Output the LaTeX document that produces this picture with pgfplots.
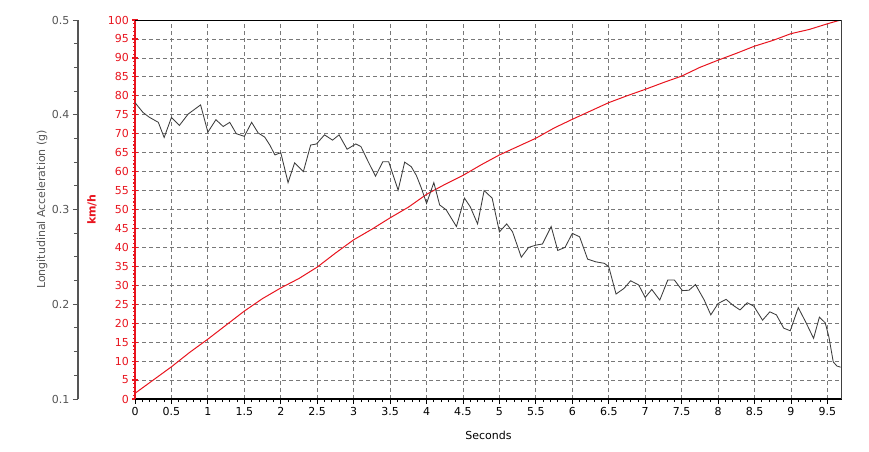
\documentclass[border=0pt]{standalone}
\usepackage{fontspec}
\setmainfont{DejaVu Sans}
\usepackage{pgfplots}
\usepackage{pgfplotstable}
\pgfplotsset{compat=1.18}
\definecolor{kmh}{RGB}{232,20,30}
\definecolor{acc}{RGB}{85,85,85}
\definecolor{accline}{RGB}{60,60,60}
\definecolor{gridc}{RGB}{120,120,120}

\pgfplotstableread{
t g
0.00 0.4128
0.11 0.4024
0.20 0.3972
0.32 0.3920
0.40 0.3760
0.50 0.3972
0.61 0.3888
0.73 0.4008
0.90 0.4104
1.00 0.3816
1.11 0.3948
1.21 0.3876
1.30 0.3920
1.39 0.3800
1.50 0.3772
1.60 0.3920
1.69 0.3808
1.78 0.3764
1.85 0.3680
1.92 0.3576
2.00 0.3600
2.10 0.3284
2.19 0.3492
2.31 0.3400
2.41 0.3680
2.49 0.3692
2.60 0.3788
2.71 0.3732
2.80 0.3788
2.91 0.3636
3.03 0.3692
3.10 0.3664
3.20 0.3504
3.30 0.3352
3.40 0.3504
3.48 0.3504
3.61 0.3204
3.70 0.3500
3.79 0.3452
3.86 0.3360
3.93 0.3224
4.00 0.3064
4.10 0.3284
4.18 0.3048
4.27 0.2996
4.41 0.2820
4.52 0.3120
4.60 0.3028
4.70 0.2848
4.79 0.3200
4.90 0.3120
5.00 0.2764
5.10 0.2848
5.18 0.2764
5.30 0.2496
5.40 0.2600
5.50 0.2624
5.59 0.2636
5.71 0.2820
5.80 0.2568
5.90 0.2600
6.00 0.2748
6.10 0.2712
6.21 0.2476
6.32 0.2448
6.44 0.2432
6.50 0.2396
6.60 0.2108
6.71 0.2168
6.80 0.2248
6.91 0.2204
7.00 0.2072
7.09 0.2156
7.20 0.2044
7.31 0.2256
7.40 0.2256
7.51 0.2144
7.60 0.2148
7.69 0.2208
7.81 0.2044
7.90 0.1888
8.00 0.2008
8.11 0.2052
8.20 0.1992
8.30 0.1940
8.40 0.2016
8.49 0.1980
8.61 0.1832
8.71 0.1920
8.80 0.1888
8.90 0.1748
8.99 0.1720
9.10 0.1964
9.20 0.1816
9.31 0.1640
9.39 0.1864
9.47 0.1804
9.52 0.1656
9.58 0.1392
9.63 0.1348
9.68 0.1336
}\acctable

\pgfplotstableread{
t v
0.00 1.5
0.25 5.0
0.50 8.5
0.75 12.3
1.00 15.8
1.25 19.5
1.50 23.2
1.75 26.5
2.00 29.3
2.25 31.8
2.50 34.8
2.75 38.5
3.00 42.0
3.25 44.8
3.50 47.8
3.75 50.6
4.00 54.0
4.25 56.6
4.50 59.0
4.75 61.8
5.00 64.4
5.25 66.6
5.50 68.8
5.75 71.5
6.00 73.8
6.25 76.0
6.50 78.2
6.75 80.0
7.00 81.7
7.25 83.5
7.50 85.2
7.75 87.5
8.00 89.4
8.25 91.2
8.50 93.1
8.75 94.6
9.00 96.4
9.25 97.5
9.50 99.0
9.68 100.0
}\speedtable

\begin{document}
\begin{tikzpicture}
\path[use as bounding box] (-135pt,-52pt) rectangle (734pt,399pt);

% acceleration (g) scale
\begin{axis}[
  at={(-57pt,0pt)}, anchor=south west,
  scale only axis, width=10pt, height=379pt,
  xmin=0, xmax=1, ymin=0.1, ymax=0.5,
  axis x line=none, axis y line*=left,
  y axis line style={acc, line width=1.6pt, -},
  ytick={0.1,0.2,0.3,0.4,0.5}, minor y tick num=3,
  ytick align=outside, major tick length=5pt, minor tick length=4pt,
  ytick style={acc, line width=1pt},
  yticklabel style={acc, font=\fontsize{11}{13}\selectfont},
  /pgf/number format/.cd, fixed, fixed zerofill, precision=1, assume math mode=true,
  /pgfplots/.cd,
  ylabel={Longitudinal Acceleration (g)},
  every axis y label/.style={at={([xshift=-36pt]axis description cs:0,0.5)}, rotate=90, anchor=center, font=\fontsize{11}{13}\selectfont, color=acc},
]
\end{axis}

% speed axis with grid
\begin{axis}[
  at={(0pt,0pt)}, anchor=south west,
  scale only axis, width=707pt, height=379pt,
  xmin=0, xmax=9.7, ymin=0, ymax=100,
  axis x line*=bottom, axis y line*=left,
  x axis line style={black, line width=2.4pt, -},
  y axis line style={kmh, line width=2pt, -},
  xtick={0,0.5,...,9.5}, minor x tick num=4,
  ytick={0,5,...,100}, minor y tick num=4,
  xtick align=outside, ytick align=center,
  major tick length=5pt, minor tick length=3pt,
  xtick style={black, line width=0.8pt},
  ytick style={kmh, line width=1.2pt},
  grid=major,
  major grid style={dash pattern=on 4pt off 3pt, gridc, line width=0.8pt},
  tick label style={font=\fontsize{11}{13}\selectfont},
  /pgf/number format/assume math mode=true,
  yticklabel style={kmh},
  xlabel={Seconds}, ylabel={km/h},
  every axis x label/.style={at={([yshift=-36pt]axis description cs:0.5,0)}, anchor=center, font=\fontsize{11}{13}\selectfont},
  every axis y label/.style={at={([xshift=-43pt]axis description cs:0,0.5)}, rotate=90, anchor=center, font=\fontsize{11}{13}\selectfont\bfseries, color=kmh},
]
\addplot[kmh, line width=1pt] table[x=t, y=v]{\speedtable};
\draw[black, line width=1.4pt] (rel axis cs:0,1) -- (rel axis cs:1,1);
\draw[darkgray, line width=1.4pt] (rel axis cs:1,0) -- (rel axis cs:1,1);
\end{axis}

% acceleration trace
\begin{axis}[
  at={(0pt,0pt)}, anchor=south west,
  scale only axis, width=707pt, height=379pt,
  xmin=0, xmax=9.7, ymin=0.1, ymax=0.5,
  hide axis,
]
\addplot[accline, line width=0.85pt] table[x=t, y=g]{\acctable};
\end{axis}
\end{tikzpicture}
\end{document}
